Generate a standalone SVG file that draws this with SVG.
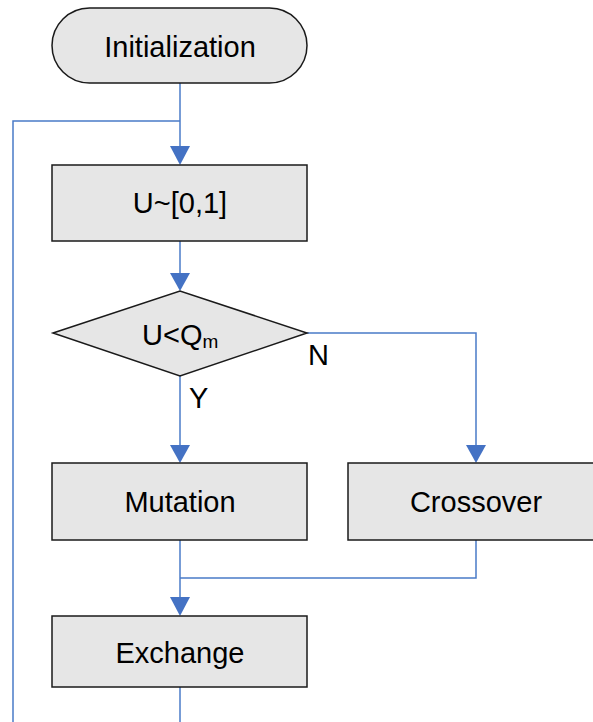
<svg xmlns="http://www.w3.org/2000/svg" width="593" height="722" viewBox="0 0 593 722">
<style>
.n{fill:#e6e6e6;stroke:#1a1a1a;stroke-width:1.5}
.t{font-family:"Liberation Sans",Arial,sans-serif;font-size:29px;fill:#000;text-anchor:middle}
.l{font-family:"Liberation Sans",Arial,sans-serif;font-size:29px;fill:#000}
.c{fill:none;stroke:#4a7bc8;stroke-width:1.5}
.a{fill:#4472c4}
</style>
<g id="connectors">
<path class="c" d="M180,83 V146"/>
<path class="a" d="M170,146 L190,146 L180,165 Z"/>
<path class="c" d="M13,722 V121 H180"/>
<path class="c" d="M180,241 V273"/>
<path class="a" d="M170,273 L190,273 L180,291 Z"/>
<path class="c" d="M180,376 V445"/>
<path class="a" d="M170,445 L190,445 L180,463 Z"/>
<path class="c" d="M307,333 H476 V445"/>
<path class="a" d="M466,445 L486,445 L476,463 Z"/>
<path class="c" d="M180,540 V598"/>
<path class="c" d="M476,540 V578 H180"/>
<path class="a" d="M170,597 L190,597 L180,616 Z"/>
<path class="c" d="M180,687 V722"/>
</g>
<g id="initialization">
<rect class="n" x="52" y="8" width="255" height="75" rx="37.5" ry="37.5"/>
<text class="t" x="180" y="57">Initialization</text>
</g>
<g id="uniform">
<rect class="n" x="52" y="165" width="255" height="76"/>
<text class="t" x="180" y="213">U~[0,1]</text>
</g>
<g id="decision">
<polygon class="n" points="53,333 180,291 307,333 180,376"/>
<text class="l" x="142" y="345">U&lt;Q<tspan font-size="19" dy="3">m</tspan></text>
</g>
<g id="mutation">
<rect class="n" x="52" y="463" width="255" height="77"/>
<text class="t" x="180" y="512">Mutation</text>
</g>
<g id="crossover">
<rect class="n" x="348" y="463" width="256" height="77"/>
<text class="t" x="476" y="512">Crossover</text>
</g>
<g id="exchange">
<rect class="n" x="52" y="616" width="255" height="71"/>
<text class="t" x="180" y="663">Exchange</text>
</g>
<g id="labels">
<text class="l" x="189" y="408">Y</text>
<text class="l" x="308" y="365">N</text>
</g>
</svg>
